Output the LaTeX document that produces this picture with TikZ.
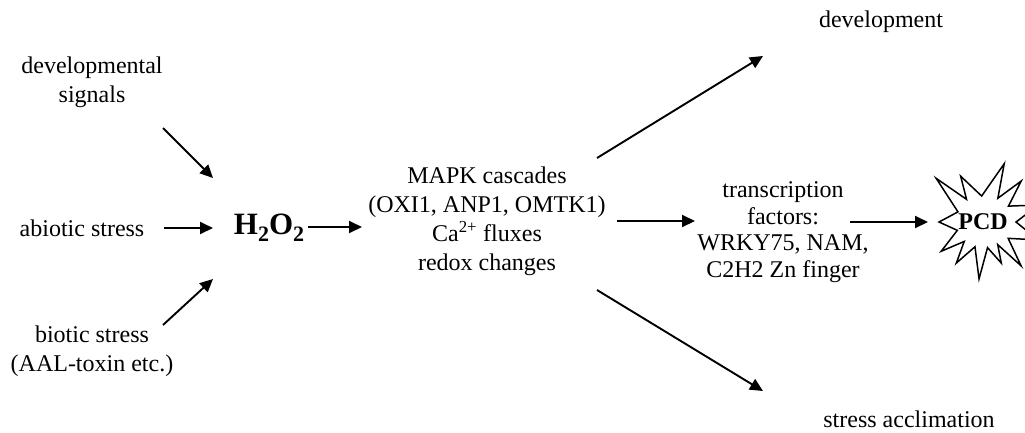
\documentclass[tikz,border=0pt]{standalone}
\usepackage{fontspec}
\setmainfont{Liberation Serif}
\usetikzlibrary{arrows.meta,calc}
\begin{document}
\begin{tikzpicture}[x=1pt,y=-1pt,
  txt/.style={font=\fontsize{24}{29}\selectfont, align=center, inner sep=0pt},
  arr/.style={line width=1.9pt, -{Triangle[length=13pt,width=12pt]}},
  starline/.style={line width=1.5pt, line join=miter},
]
\useasboundingbox (0,0) rectangle (1025,432);
% text nodes
\node[txt] (dev) at (92,82) {developmental\\signals};
\node[txt] (abio) at (82,228) {abiotic stress};
\node[txt] (bio) at (92,351) {biotic stress\\(AAL-toxin etc.)};
\node[font=\fontsize{31}{31}\selectfont\bfseries, inner sep=0pt] (h2o2) at (269,228)
  {H\raisebox{-0.22em}{\fontsize{22}{22}\selectfont 2}O\raisebox{-0.22em}{\fontsize{22}{22}\selectfont 2}};
\node[txt] (mapk) at (487,221.5) {MAPK cascades\\(OXI1, ANP1, OMTK1)\\Ca\textsuperscript{2+} fluxes\\redox changes};
\node[txt, font=\fontsize{24}{26.7}\selectfont] (tf) at (783,232) {transcription\\factors:\\WRKY75, NAM,\\C2H2 Zn finger};
\node[font=\fontsize{24}{24}\selectfont\bfseries, inner sep=0pt] (pcd) at (983,222) {PCD};
\node[txt] (devel) at (881,22) {development};
\node[txt] (accl) at (909,419.5) {stress acclimation};
% star round PCD
\begin{scope}[shift={(pcd.center)}, yscale=-1]
\draw[starline] (180:44) -- (158:27) -- (137:64) -- (126:28) -- (116:51) -- (93:26) -- (70:62) -- (58:28) -- (47:56) -- (32:30) -- (17:58) -- (0:33) -- (-18:58) -- (-33:30) -- (-49:58) -- (-57:27) -- (-66:45) -- (-80:26) -- (-94:57) -- (-108:26) -- (-123:49) -- (-134:27) -- (-145:51) -- (-162:27) -- cycle;
\end{scope}
% connector end points
\coordinate (devS) at (163,128);  \coordinate (devE) at (213,178);
\coordinate (abS) at (164,228);   \coordinate (abE) at (213,228);
\coordinate (bioS) at (163,325);  \coordinate (bioE) at (213,279);
\coordinate (hS) at (308,227);    \coordinate (hE) at (362,227);
\coordinate (upS) at (597,158);   \coordinate (upE) at (763,56);
\coordinate (dnS) at (597,290);   \coordinate (dnE) at (763,391);
\coordinate (mS) at (617,221);    \coordinate (mE) at (695,221);
\coordinate (tS) at (850,222);    \coordinate (tE) at (928,222);
\draw[arr] (devS) -- (devE);
\draw[arr] (abS) -- (abE);
\draw[arr] (bioS) -- (bioE);
\draw[arr] (hS) -- (hE);
\draw[arr] (upS) -- (upE);
\draw[arr] (dnS) -- (dnE);
\draw[arr] (mS) -- (mE);
\draw[arr] (tS) -- (tE);
\end{tikzpicture}
\end{document}
